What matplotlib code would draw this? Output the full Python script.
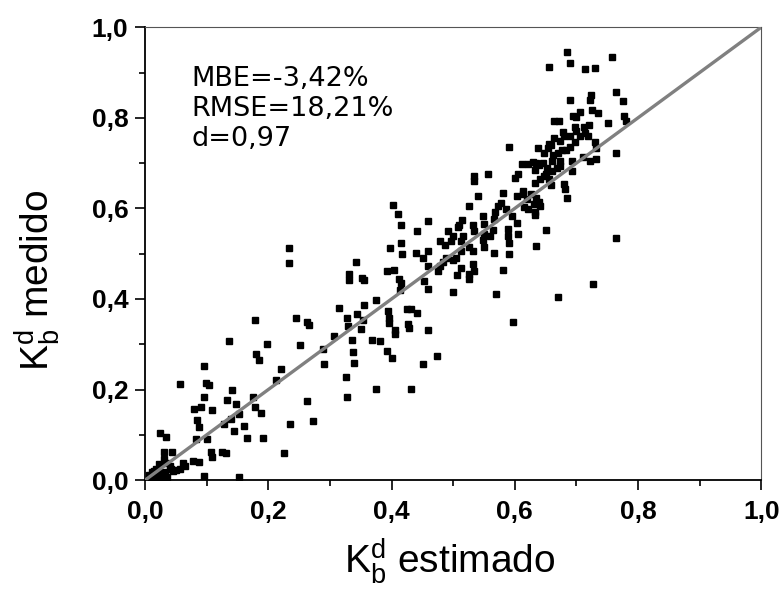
import matplotlib
matplotlib.use("Agg")
import matplotlib.pyplot as plt
from matplotlib.ticker import MultipleLocator, FuncFormatter

plt.rcParams['font.family'] = ['Liberation Sans', 'DejaVu Sans']
plt.rcParams['mathtext.default'] = 'regular'

# Kd_b estimado (x) e Kd_b medido (y)
k_est = [
    0.684, 0.758, 0.655, 0.690, 0.714, 0.730, 0.765, 0.776, 0.689, 0.723,
    0.722, 0.778, 0.780, 0.751, 0.735, 0.725, 0.705, 0.700, 0.695, 0.720,
    0.698, 0.672, 0.663, 0.679, 0.680, 0.690, 0.718, 0.714, 0.697, 0.663,
    0.655, 0.674, 0.654, 0.638, 0.730, 0.732, 0.591, 0.765, 0.683, 0.670,
    0.662, 0.647, 0.629, 0.635, 0.611, 0.722, 0.731, 0.710, 0.693, 0.693,
    0.674, 0.673, 0.661, 0.653, 0.648, 0.632, 0.621, 0.605, 0.601, 0.641,
    0.655, 0.632, 0.658, 0.680, 0.682, 0.685, 0.614, 0.614, 0.626, 0.603,
    0.634, 0.619, 0.640, 0.631, 0.615, 0.621, 0.641, 0.632, 0.633, 0.581,
    0.577, 0.572, 0.585, 0.595, 0.603, 0.605, 0.589, 0.589, 0.591, 0.591,
    0.581, 0.568, 0.567, 0.564, 0.567, 0.569, 0.597, 0.634, 0.650, 0.670,
    0.727, 0.765, 0.534, 0.534, 0.557, 0.540, 0.526, 0.514, 0.509, 0.508,
    0.548, 0.550, 0.532, 0.533, 0.550, 0.548, 0.516, 0.512, 0.492, 0.500,
    0.496, 0.479, 0.486, 0.526, 0.532, 0.550, 0.512, 0.488, 0.500, 0.483,
    0.479, 0.475, 0.504, 0.513, 0.506, 0.532, 0.534, 0.526, 0.500, 0.459,
    0.459, 0.451, 0.439, 0.459, 0.453, 0.459, 0.441, 0.415, 0.411, 0.402,
    0.398, 0.415, 0.417, 0.404, 0.393, 0.412, 0.415, 0.414, 0.342, 0.331,
    0.331, 0.352, 0.356, 0.374, 0.356, 0.344, 0.353, 0.351, 0.328, 0.329,
    0.315, 0.306, 0.368, 0.382, 0.394, 0.396, 0.396, 0.406, 0.406, 0.392,
    0.400, 0.425, 0.431, 0.441, 0.427, 0.429, 0.459, 0.474, 0.451, 0.431,
    0.374, 0.335, 0.338, 0.339, 0.326, 0.328, 0.289, 0.291, 0.263, 0.266,
    0.245, 0.251, 0.233, 0.233, 0.179, 0.180, 0.185, 0.198, 0.221, 0.213,
    0.263, 0.273, 0.235, 0.226, 0.192, 0.188, 0.175, 0.179, 0.166, 0.160,
    0.153, 0.147, 0.141, 0.136, 0.133, 0.140, 0.145, 0.128, 0.131, 0.125,
    0.152, 0.096, 0.099, 0.104, 0.096, 0.091, 0.079, 0.108, 0.085, 0.087,
    0.083, 0.101, 0.057, 0.107, 0.109, 0.087, 0.077, 0.095, 0.062, 0.065,
    0.050, 0.044, 0.034, 0.024, 0.031, 0.031, 0.034, 0.022, 0.042, 0.018,
    0.012, 0.007, 0.026, 0.019, 0.030, 0.010, 0.040, 0.032, 0.024, 0.015,
    0.046, 0.056, 0.036, 0.560, 0.526, 0.645, 0.660, 0.650, 0.668, 0.640,
    0.676, 0.658, 0.690, 0.705, 0.712, 0.700,
]
k_med = [
    0.946, 0.935, 0.912, 0.921, 0.908, 0.910, 0.857, 0.837, 0.840, 0.851,
    0.840, 0.805, 0.794, 0.788, 0.811, 0.817, 0.813, 0.802, 0.805, 0.784,
    0.780, 0.792, 0.792, 0.768, 0.759, 0.759, 0.759, 0.766, 0.747, 0.755,
    0.743, 0.749, 0.734, 0.734, 0.747, 0.734, 0.736, 0.722, 0.728, 0.722,
    0.718, 0.722, 0.702, 0.701, 0.697, 0.704, 0.710, 0.714, 0.705, 0.682,
    0.705, 0.693, 0.682, 0.689, 0.672, 0.685, 0.697, 0.676, 0.668, 0.664,
    0.664, 0.657, 0.651, 0.654, 0.643, 0.622, 0.639, 0.631, 0.631, 0.627,
    0.622, 0.620, 0.614, 0.610, 0.602, 0.598, 0.606, 0.592, 0.585, 0.635,
    0.612, 0.606, 0.599, 0.583, 0.568, 0.544, 0.554, 0.538, 0.524, 0.500,
    0.465, 0.593, 0.577, 0.552, 0.502, 0.412, 0.350, 0.517, 0.553, 0.405,
    0.433, 0.534, 0.672, 0.660, 0.676, 0.627, 0.606, 0.574, 0.564, 0.558,
    0.583, 0.566, 0.564, 0.550, 0.544, 0.531, 0.539, 0.527, 0.550, 0.539,
    0.527, 0.529, 0.520, 0.515, 0.506, 0.515, 0.506, 0.490, 0.485, 0.481,
    0.473, 0.461, 0.490, 0.469, 0.452, 0.477, 0.461, 0.444, 0.415, 0.573,
    0.506, 0.490, 0.502, 0.473, 0.440, 0.423, 0.549, 0.564, 0.587, 0.607,
    0.513, 0.523, 0.500, 0.465, 0.462, 0.444, 0.436, 0.419, 0.481, 0.456,
    0.442, 0.446, 0.442, 0.398, 0.386, 0.366, 0.353, 0.334, 0.358, 0.340,
    0.380, 0.318, 0.310, 0.307, 0.373, 0.357, 0.346, 0.332, 0.322, 0.286,
    0.270, 0.378, 0.378, 0.369, 0.344, 0.336, 0.332, 0.274, 0.257, 0.202,
    0.202, 0.309, 0.282, 0.259, 0.228, 0.184, 0.289, 0.257, 0.350, 0.342,
    0.357, 0.299, 0.513, 0.480, 0.354, 0.278, 0.266, 0.301, 0.245, 0.222,
    0.174, 0.131, 0.124, 0.060, 0.093, 0.149, 0.183, 0.162, 0.093, 0.120,
    0.147, 0.168, 0.199, 0.307, 0.176, 0.134, 0.108, 0.124, 0.060, 0.063,
    0.007, 0.251, 0.214, 0.210, 0.184, 0.162, 0.158, 0.154, 0.133, 0.118,
    0.091, 0.091, 0.213, 0.062, 0.050, 0.041, 0.043, 0.008, 0.037, 0.032,
    0.022, 0.062, 0.095, 0.105, 0.062, 0.047, 0.037, 0.035, 0.025, 0.025,
    0.017, 0.012, 0.010, 0.007, 0.004, 0.007, 0.032, 0.018, 0.017, 0.021,
    0.021, 0.025, 0.007, 0.539, 0.456, 0.700, 0.705, 0.675, 0.690, 0.695,
    0.730, 0.740, 0.735, 0.760, 0.780, 0.770,
]
stats_text = "MBE=-3,42%\nRMSE=18,21%\nd=0,97"

fig = plt.figure(figsize=(7.8, 5.92), dpi=100)
ax = fig.add_axes([0.186, 0.189, 0.790, 0.765])

ax.plot(k_est, k_med, ls="none", marker="s", ms=4.2, color="black", zorder=2)
ax.plot([0, 1], [0, 1], color="#808080", lw=2.4, zorder=3)

ax.set_xlim(0, 1)
ax.set_ylim(0, 1)
ax.xaxis.set_major_locator(MultipleLocator(0.2))
ax.xaxis.set_minor_locator(MultipleLocator(0.1))
ax.yaxis.set_major_locator(MultipleLocator(0.2))
ax.yaxis.set_minor_locator(MultipleLocator(0.1))
fmt = FuncFormatter(lambda v, p: f"{v:.1f}".replace(".", ","))
ax.xaxis.set_major_formatter(fmt)
ax.yaxis.set_major_formatter(fmt)
ax.tick_params(which="major", direction="out", length=7, width=1.2)
ax.tick_params(which="minor", direction="out", length=4, width=1.2)
ax.tick_params(axis="x", which="major", pad=7)
ax.tick_params(axis="y", which="major", pad=5)
for lab in ax.get_xticklabels() + ax.get_yticklabels():
    lab.set_fontweight("bold")
    lab.set_fontsize(19)
for side in ["left", "bottom"]:
    ax.spines[side].set_linewidth(1.3)
for side in ["top", "right"]:
    ax.spines[side].set_linewidth(0.8)
    ax.spines[side].set_color("#555555")

ax.text(0.075, 0.915, stats_text, fontsize=19.5, va="top", ha="left",
        linespacing=1.2, family="DejaVu Sans", transform=ax.transAxes)

ax.set_xlabel(r"K$^{d}_{b}$ estimado", fontsize=28)
ax.set_ylabel(r"K$^{d}_{b}$ medido", fontsize=28)
ax.xaxis.set_label_coords(0.494, -0.125)
ax.yaxis.set_label_coords(-0.135, 0.44)

plt.savefig("out.png", dpi=100)
